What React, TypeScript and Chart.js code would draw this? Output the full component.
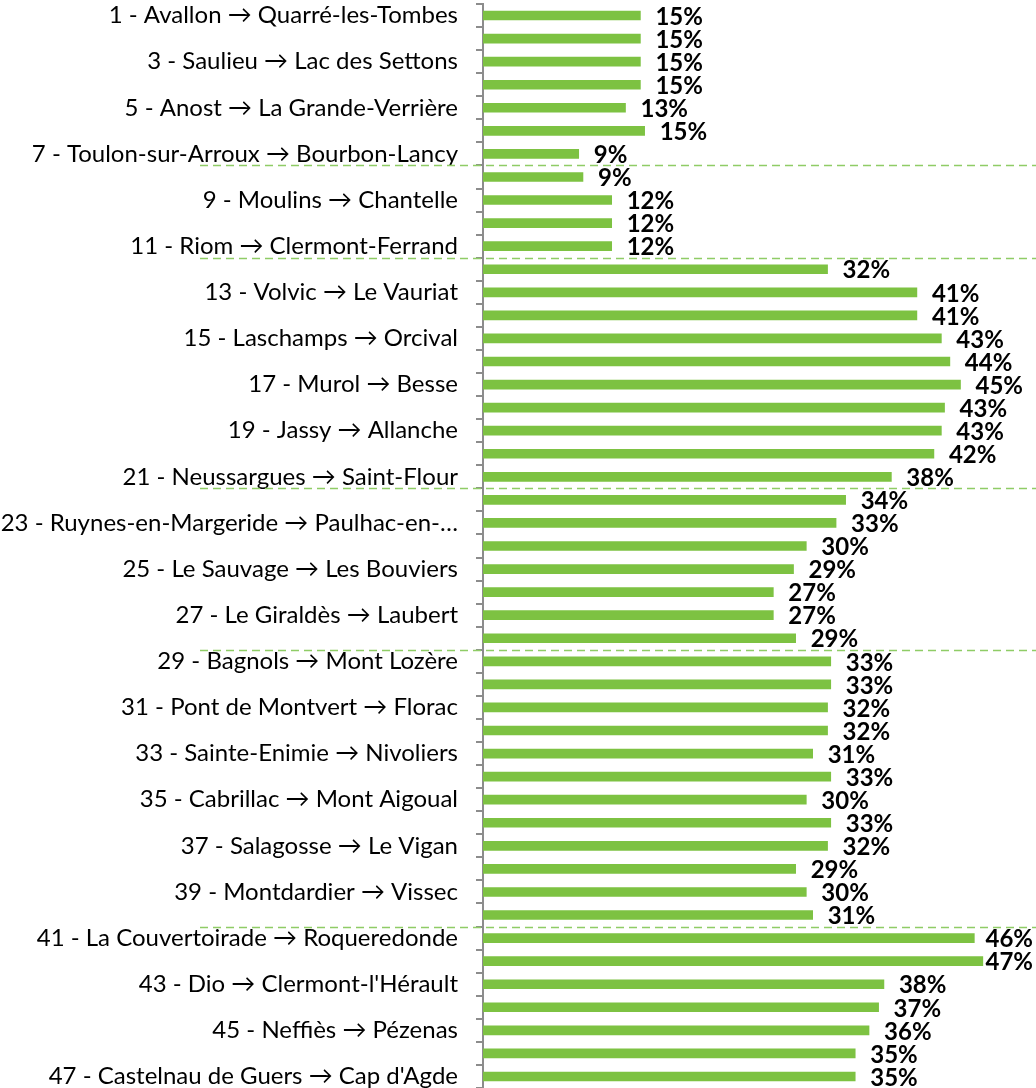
import React, { useEffect, useRef } from "react";
import { Chart, registerables } from "chart.js";

Chart.register(...registerables);

const categories: string[] = [
  "1 - Avallon → Quarré-les-Tombes", "",
  "3 - Saulieu → Lac des Settons", "",
  "5 - Anost → La Grande-Verrière", "",
  "7 - Toulon-sur-Arroux → Bourbon-Lancy", "",
  "9 - Moulins → Chantelle", "",
  "11 - Riom → Clermont-Ferrand", "",
  "13 - Volvic → Le Vauriat", "",
  "15 - Laschamps → Orcival", "",
  "17 - Murol → Besse", "",
  "19 - Jassy → Allanche", "",
  "21 - Neussargues → Saint-Flour", "",
  "23 - Ruynes-en-Margeride → Paulhac-en-…", "",
  "25 - Le Sauvage → Les Bouviers", "",
  "27 - Le Giraldès → Laubert", "",
  "29 - Bagnols → Mont Lozère", "",
  "31 - Pont de Montvert → Florac", "",
  "33 - Sainte-Enimie → Nivoliers", "",
  "35 - Cabrillac → Mont Aigoual", "",
  "37 - Salagosse → Le Vigan", "",
  "39 - Montdardier → Vissec", "",
  "41 - La Couvertoirade → Roqueredonde", "",
  "43 - Dio → Clermont-l'Hérault", "",
  "45 - Neffiès → Pézenas", "",
  "47 - Castelnau de Guers → Cap d'Agde",
];

const shares: number[] = [
  14.8, 14.8, 14.8, 14.8, 13.4, 15.2, 9.0,
  9.4, 12.1, 12.1, 12.1,
  32.4, 40.8, 40.8, 43.1, 43.9, 44.9, 43.4, 43.1, 42.4, 38.4,
  34.1, 33.2, 30.4, 29.2, 27.3, 27.3, 29.4,
  32.7, 32.7, 32.4, 32.4, 31.0, 32.7, 30.4, 32.7, 32.4, 29.4, 30.4, 31.0,
  46.2, 47.0, 37.7, 37.2, 36.3, 35.0, 35.0,
];

// stage numbers after which a dashed separator is drawn
const separatorsAfter: number[] = [7, 11, 21, 28, 40];

const FONT = "Lato, 'Open Sans', sans-serif";

export default function App() {
  const ref = useRef<HTMLCanvasElement | null>(null);

  useEffect(() => {
    if (!ref.current) return;

    const labelPlugin = {
      id: "barLabels",
      afterDatasetsDraw(chart: any) {
        const ctx = chart.ctx;
        const meta = chart.getDatasetMeta(0);
        ctx.save();
        ctx.font = `bold 24px ${FONT}`;
        ctx.fillStyle = "#000";
        ctx.textBaseline = "middle";
        ctx.textAlign = "left";
        meta.data.forEach((bar: any, i: number) => {
          const txt = Math.round(shares[i]) + "%";
          const w = ctx.measureText(txt).width;
          const x = Math.min(bar.x + 15, chart.width - w - 3);
          ctx.fillText(txt, x, bar.y + 1.5);
        });
        ctx.restore();
      },
    };

    const sepPlugin = {
      id: "separators",
      afterDraw(chart: any) {
        const ctx = chart.ctx;
        const y = chart.scales.y;
        ctx.save();
        ctx.strokeStyle = "#8fcc66";
        ctx.lineWidth = 1.3;
        ctx.setLineDash([8, 5]);
        separatorsAfter.forEach((k) => {
          const py = (y.getPixelForValue(k - 1) + y.getPixelForValue(k)) / 2;
          ctx.beginPath();
          ctx.moveTo(200, Math.round(py) + 0.5);
          ctx.lineTo(chart.width, Math.round(py) + 0.5);
          ctx.stroke();
        });
        ctx.restore();
      },
    };

    const chart = new Chart(ref.current, {
      type: "bar",
      data: {
        labels: categories,
        datasets: [
          {
            data: shares,
            backgroundColor: "#7dc242",
            borderWidth: 0,
            barThickness: 9,
          },
        ],
      },
      options: {
        indexAxis: "y",
        animation: false,
        responsive: false,
        maintainAspectRatio: false,
        layout: { padding: { top: 4, right: 0, bottom: 0, left: 0 } },
        plugins: {
          legend: { display: false },
          tooltip: { enabled: false },
        },
        scales: {
          x: { display: false, min: 0, max: 52 },
          y: {
            type: "category",
            afterFit: (scale: any) => {
              scale.width = 483;
              scale.paddingTop = 0;
              scale.paddingBottom = 0;
            },
            border: { display: true, color: "#8c8c8c", width: 2 },
            grid: {
              display: true,
              offset: true,
              drawOnChartArea: false,
              drawTicks: true,
              tickLength: 7,
              color: "#8c8c8c",
              lineWidth: 2,
            },
            ticks: {
              autoSkip: false,
              color: "#000",
              padding: 18,
              font: { family: FONT, size: 24 },
              callback: (_v: any, i: number) => categories[i],
            },
          },
        },
      },
      plugins: [labelPlugin, sepPlugin],
    });
    return () => chart.destroy();
  }, []);

  return (
    <div style={{ position: "absolute", left: 0, top: 0, width: 1036, height: 1088, background: "#fff" }}>
      <canvas ref={ref} width={1036} height={1088} style={{ width: 1036, height: 1088 }} />
    </div>
  );
}
